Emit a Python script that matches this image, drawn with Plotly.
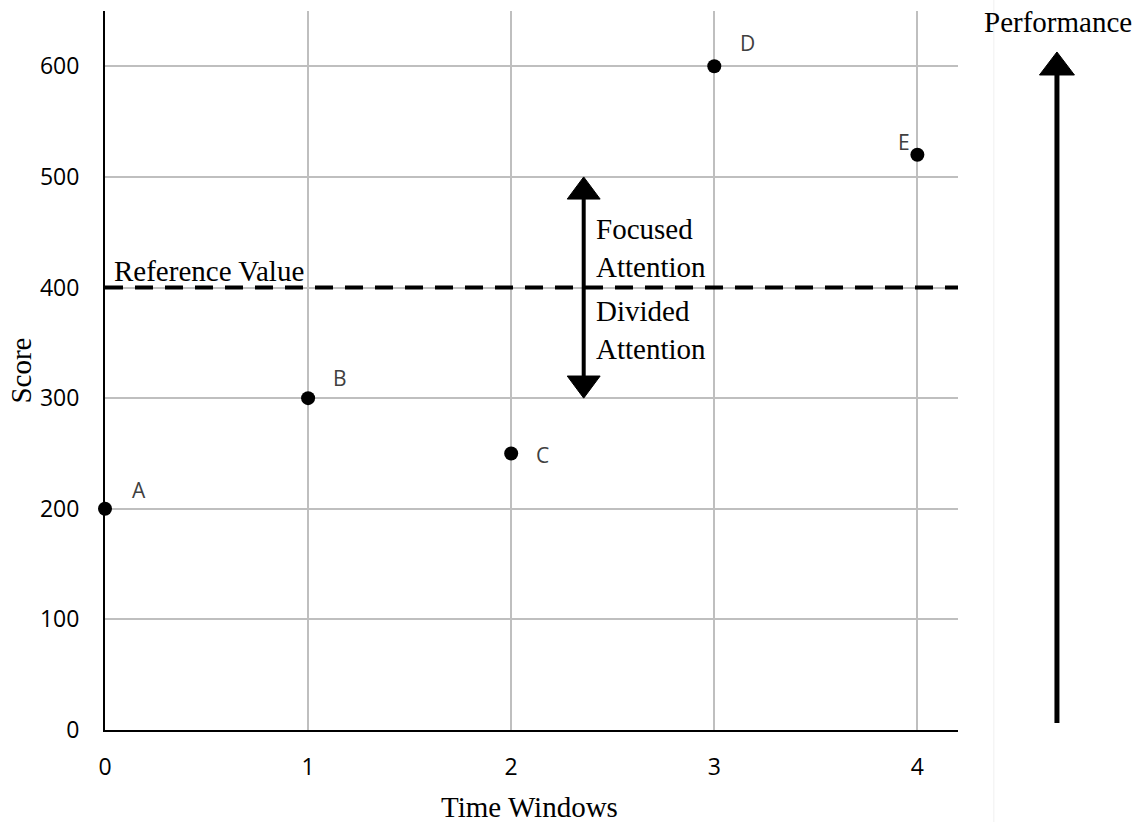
import plotly.graph_objects as go

# ---- data ----
time_windows = [0, 1, 2, 3, 4]
scores = [200, 300, 250, 600, 520]
point_labels = ["A", "B", "C", "D", "E"]
label_dx = [34, 32, 31, 33, -13]     # pixel offsets of the point labels
label_dy = [19, 20, -2, 23, 13]
reference_value = 400
x_ticks = [0, 1, 2, 3, 4]
y_ticks = [0, 100, 200, 300, 400, 500, 600]

arrow_x = 2.357
arrow_top = 500
arrow_bottom = 300

serif = "Liberation Serif, Times New Roman, serif"
sans = "Open Sans, Noto Sans, sans-serif"
SERIF_SIZE = 29

fig = go.Figure()
fig.add_trace(go.Scatter(
    x=time_windows, y=scores, mode="markers",
    marker=dict(size=14, color="black"),
    cliponaxis=False, showlegend=False, hoverinfo="skip"))

annotations = []
for xv, yv, lab, dx, dy in zip(time_windows, scores, point_labels, label_dx, label_dy):
    annotations.append(dict(x=xv, y=yv, xref="x", yref="y", text=lab, showarrow=False,
                            xshift=dx, yshift=dy, xanchor="center", yanchor="middle",
                            font=dict(family=sans, size=21, color="#404040")))

annotations += [
    dict(x=0.008, y=reference_value, xref="paper", yref="y", text="Reference Value",
         showarrow=False, xanchor="left", yanchor="bottom", yshift=-1,
         font=dict(family=serif, size=SERIF_SIZE, color="black")),
    dict(x=2.41, y=436, xref="x", yref="y", text="Focused<br>Attention",
         showarrow=False, xanchor="left", yanchor="middle", align="left",
         font=dict(family=serif, size=SERIF_SIZE, color="black")),
    dict(x=2.41, y=362, xref="x", yref="y", text="Divided<br>Attention",
         showarrow=False, xanchor="left", yanchor="middle", align="left",
         font=dict(family=serif, size=SERIF_SIZE, color="black")),
    dict(x=1.1167, y=0.985, xref="paper", yref="paper", text="Performance",
         showarrow=False, xanchor="center", yanchor="middle",
         font=dict(family=serif, size=SERIF_SIZE, color="black")),
    dict(x=-0.0996, y=0.5, xref="paper", yref="paper", text="Score", textangle=-90,
         showarrow=False, xanchor="center", yanchor="middle",
         font=dict(family=serif, size=SERIF_SIZE, color="black")),
    dict(x=0.498, y=-0.107, xref="paper", yref="paper", text="Time Windows",
         showarrow=False, xanchor="center", yanchor="middle",
         font=dict(family=serif, size=SERIF_SIZE, color="black")),
]

hw = 0.081   # half head width (data x)
hh = 20      # head height (data y)
shapes = [
    dict(type="line", xref="x domain", yref="y", x0=0, x1=1, y0=reference_value, y1=reference_value,
         line=dict(color="black", width=4, dash="18px,12px")),
    dict(type="line", xref="x", yref="y", x0=arrow_x, x1=arrow_x,
         y0=arrow_bottom + hh, y1=arrow_top - hh, line=dict(color="black", width=4)),
    dict(type="path", xref="x", yref="y",
         path=f"M {arrow_x-hw},{arrow_top-hh} L {arrow_x+hw},{arrow_top-hh} L {arrow_x},{arrow_top} Z",
         fillcolor="black", line=dict(color="black", width=1)),
    dict(type="path", xref="x", yref="y",
         path=f"M {arrow_x-hw},{arrow_bottom+hh} L {arrow_x+hw},{arrow_bottom+hh} L {arrow_x},{arrow_bottom} Z",
         fillcolor="black", line=dict(color="black", width=1)),
    dict(type="line", xref="paper", yref="paper", x0=1.042, x1=1.042, y0=-0.13, y1=1.02,
         line=dict(color="#f0f0f0", width=1)),
    dict(type="line", xref="paper", yref="paper", x0=1.116, x1=1.116, y0=0.0097, y1=0.915,
         line=dict(color="black", width=5)),
    dict(type="path", xref="paper", yref="paper",
         path="M 1.0955,0.911 L 1.1365,0.911 L 1.116,0.943 Z",
         fillcolor="black", line=dict(color="black", width=1)),
]

fig.update_layout(
    width=1141, height=822,
    margin=dict(l=105, r=183, t=11, b=92),
    paper_bgcolor="white", plot_bgcolor="white",
    showlegend=False,
    annotations=annotations, shapes=shapes,
    xaxis=dict(range=[0, 4.2], tickvals=x_ticks, ticktext=[str(v) for v in x_ticks],
               showgrid=True, gridcolor="#bfbfbf", gridwidth=2, zeroline=False,
               showline=True, linecolor="black", linewidth=2,
               ticks="", ticklabelstandoff=15,
               tickfont=dict(family=sans, size=23, color="black")),
    yaxis=dict(range=[0, 650], tickvals=y_ticks, ticktext=[str(v) for v in y_ticks],
               showgrid=True, gridcolor="#bfbfbf", gridwidth=2, zeroline=False,
               showline=True, linecolor="black", linewidth=2,
               ticks="", ticklabelstandoff=19,
               tickfont=dict(family=sans, size=23, color="black")),
)

fig.write_html("out.html", config={"displayModeBar": False},
               post_script="document.body.style.margin='0';document.body.style.overflow='hidden';")
